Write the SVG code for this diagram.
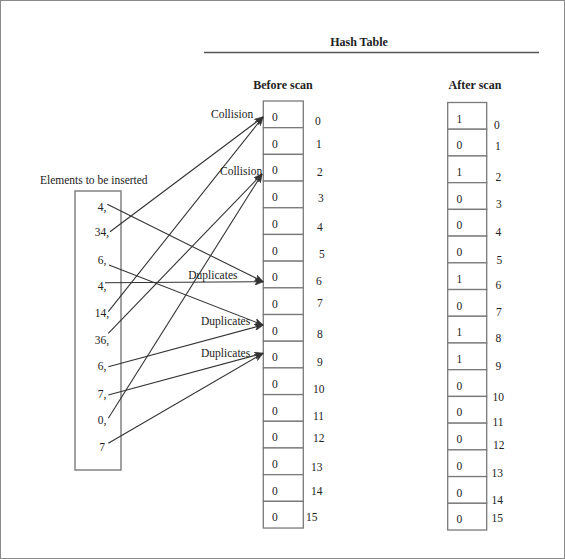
<svg xmlns="http://www.w3.org/2000/svg" width="565" height="559" viewBox="0 0 565 559">
<style>
text{font-family:"Liberation Serif","Times New Roman",serif;font-size:11.5px;fill:#222}
.b{font-weight:bold;font-size:12px}
.m{text-anchor:middle}
.box{fill:#fff;stroke:#7a7a7a;stroke-width:1.4}
.cell{fill:#fff;stroke:#7a7a7a;stroke-width:1.3}
.con{stroke:#333;stroke-width:1.1;fill:none;marker-end:url(#ah)}
</style>
<defs>
<marker id="ah" viewBox="0 0 10 8" refX="9.5" refY="4" markerWidth="9" markerHeight="7" markerUnits="userSpaceOnUse" orient="auto">
<path d="M0,0 L10,4 L0,8 L2.5,4 z" fill="#333" stroke="#333" stroke-width="0.6"/>
</marker>
</defs>
<rect x="0.5" y="0.5" width="564" height="558" fill="#fff" stroke="#8a8a8a" stroke-width="1"/>
<g id="title">
<text class="b m" x="359" y="46">Hash Table</text>
<line x1="204" y1="52.5" x2="539" y2="52.5" stroke="#555" stroke-width="1.3"/>
</g>
<g id="before-title"><text class="b m" x="283" y="89">Before scan</text></g>
<g id="after-title"><text class="b m" x="475" y="89">After scan</text></g>
<g id="elements-title"><text x="40" y="184">Elements to be inserted</text></g>
<g id="elements">
<rect class="box" x="75" y="191" width="46" height="279"/>
<text class="m" x="102" y="210.5">4,</text>
<text class="m" x="102" y="236">34,</text>
<text class="m" x="102" y="263.5">6,</text>
<text class="m" x="102" y="290">4,</text>
<text class="m" x="102" y="317">14,</text>
<text class="m" x="102" y="343.5">36,</text>
<text class="m" x="102" y="370">6,</text>
<text class="m" x="102" y="397.5">7,</text>
<text class="m" x="102" y="424">0,</text>
<text class="m" x="102" y="451">7</text>
</g>
<g id="before-table">
<g id="b0"><rect class="cell" x="263.3" y="101" width="40" height="26.69"/><text x="272" y="121">0</text><text x="315" y="125">0</text></g>
<g id="b1"><rect class="cell" x="263.3" y="127.69" width="40" height="26.69"/><text x="272" y="147.7">0</text><text x="316" y="147.5">1</text></g>
<g id="b2"><rect class="cell" x="263.3" y="154.38" width="40" height="26.69"/><text x="272" y="174.4">0</text><text x="317" y="175.5">2</text></g>
<g id="b3"><rect class="cell" x="263.3" y="181.07" width="40" height="26.69"/><text x="272" y="201.1">0</text><text x="318" y="202">3</text></g>
<g id="b4"><rect class="cell" x="263.3" y="207.76" width="40" height="26.69"/><text x="272" y="227.8">0</text><text x="317" y="230.5">4</text></g>
<g id="b5"><rect class="cell" x="263.3" y="234.45" width="40" height="26.69"/><text x="272" y="254.5">0</text><text x="319" y="257.5">5</text></g>
<g id="b6"><rect class="cell" x="263.3" y="261.14" width="40" height="26.69"/><text x="272" y="281.1">0</text><text x="316" y="284.5">6</text></g>
<g id="b7"><rect class="cell" x="263.3" y="287.83" width="40" height="26.69"/><text x="272" y="307.8">0</text><text x="317" y="307">7</text></g>
<g id="b8"><rect class="cell" x="263.3" y="314.52" width="40" height="26.69"/><text x="272" y="334.5">0</text><text x="317" y="337.5">8</text></g>
<g id="b9"><rect class="cell" x="263.3" y="341.21" width="40" height="26.69"/><text x="272" y="361.2">0</text><text x="317" y="366">9</text></g>
<g id="b10"><rect class="cell" x="263.3" y="367.9" width="40" height="26.69"/><text x="272" y="387.9">0</text><text x="313" y="393">10</text></g>
<g id="b11"><rect class="cell" x="263.3" y="394.59" width="40" height="26.69"/><text x="272" y="414.6">0</text><text x="313" y="419.5">11</text></g>
<g id="b12"><rect class="cell" x="263.3" y="421.28" width="40" height="26.69"/><text x="272" y="441.3">0</text><text x="313" y="442">12</text></g>
<g id="b13"><rect class="cell" x="263.3" y="447.97" width="40" height="26.69"/><text x="272" y="468">0</text><text x="311" y="470.5">13</text></g>
<g id="b14"><rect class="cell" x="263.3" y="474.66" width="40" height="26.69"/><text x="272" y="494.7">0</text><text x="311" y="495">14</text></g>
<g id="b15"><rect class="cell" x="263.3" y="501.35" width="40" height="26.69"/><text x="272" y="521.4">0</text><text x="306" y="521">15</text></g>
</g>
<g id="after-table">
<g id="a0"><rect class="cell" x="447.7" y="102.5" width="39" height="26.72"/><text x="456.5" y="122.5">1</text><text x="494" y="128.5">0</text></g>
<g id="a1"><rect class="cell" x="447.7" y="129.22" width="39" height="26.72"/><text x="456.5" y="149.2">0</text><text x="495" y="150">1</text></g>
<g id="a2"><rect class="cell" x="447.7" y="155.94" width="39" height="26.72"/><text x="456.5" y="175.9">1</text><text x="495.5" y="180.5">2</text></g>
<g id="a3"><rect class="cell" x="447.7" y="182.66" width="39" height="26.72"/><text x="456.5" y="202.7">0</text><text x="496" y="207.5">3</text></g>
<g id="a4"><rect class="cell" x="447.7" y="209.38" width="39" height="26.72"/><text x="456.5" y="229.4">0</text><text x="495.5" y="236">4</text></g>
<g id="a5"><rect class="cell" x="447.7" y="236.1" width="39" height="26.72"/><text x="456.5" y="256.1">0</text><text x="496.5" y="263.5">5</text></g>
<g id="a6"><rect class="cell" x="447.7" y="262.82" width="39" height="26.72"/><text x="456.5" y="282.8">1</text><text x="495.5" y="288.5">6</text></g>
<g id="a7"><rect class="cell" x="447.7" y="289.54" width="39" height="26.72"/><text x="456.5" y="309.5">0</text><text x="496" y="316">7</text></g>
<g id="a8"><rect class="cell" x="447.7" y="316.26" width="39" height="26.72"/><text x="456.5" y="336.3">1</text><text x="495.5" y="342">8</text></g>
<g id="a9"><rect class="cell" x="447.7" y="342.98" width="39" height="26.72"/><text x="456.5" y="363">1</text><text x="495.5" y="370">9</text></g>
<g id="a10"><rect class="cell" x="447.7" y="369.7" width="39" height="26.72"/><text x="456.5" y="389.7">0</text><text x="492.5" y="401">10</text></g>
<g id="a11"><rect class="cell" x="447.7" y="396.42" width="39" height="26.72"/><text x="456.5" y="416.4">0</text><text x="492.5" y="426">11</text></g>
<g id="a12"><rect class="cell" x="447.7" y="423.14" width="39" height="26.72"/><text x="456.5" y="443.1">0</text><text x="493" y="448.5">12</text></g>
<g id="a13"><rect class="cell" x="447.7" y="449.86" width="39" height="26.72"/><text x="456.5" y="469.9">0</text><text x="491.5" y="477">13</text></g>
<g id="a14"><rect class="cell" x="447.7" y="476.58" width="39" height="26.72"/><text x="456.5" y="496.6">0</text><text x="491.5" y="503.5">14</text></g>
<g id="a15"><rect class="cell" x="447.7" y="503.3" width="39" height="26.72"/><text x="456.5" y="523.3">0</text><text x="491.5" y="521.5">15</text></g>
</g>
<g id="connectors">
<line class="con" x1="107.3" y1="204.3" x2="263" y2="281.7"/>
<line class="con" x1="110" y1="231.7" x2="263" y2="117"/>
<line class="con" x1="109" y1="265" x2="263" y2="325"/>
<line class="con" x1="105" y1="282.7" x2="263" y2="281.7"/>
<line class="con" x1="108.3" y1="311.7" x2="263" y2="117"/>
<line class="con" x1="108.3" y1="333.3" x2="262" y2="174"/>
<line class="con" x1="108.3" y1="366.7" x2="263" y2="325"/>
<line class="con" x1="108.3" y1="395" x2="263" y2="353.3"/>
<line class="con" x1="108.3" y1="418.3" x2="262" y2="174"/>
<line class="con" x1="108.3" y1="443.3" x2="263" y2="353.3"/>
</g>
<g id="labels">
<text x="211" y="117.5">Collision</text>
<text x="220" y="174.5">Collision</text>
<text x="188.3" y="279">Duplicates</text>
<text x="201" y="325">Duplicates</text>
<text x="201" y="357">Duplicates</text>
</g>
</svg>
